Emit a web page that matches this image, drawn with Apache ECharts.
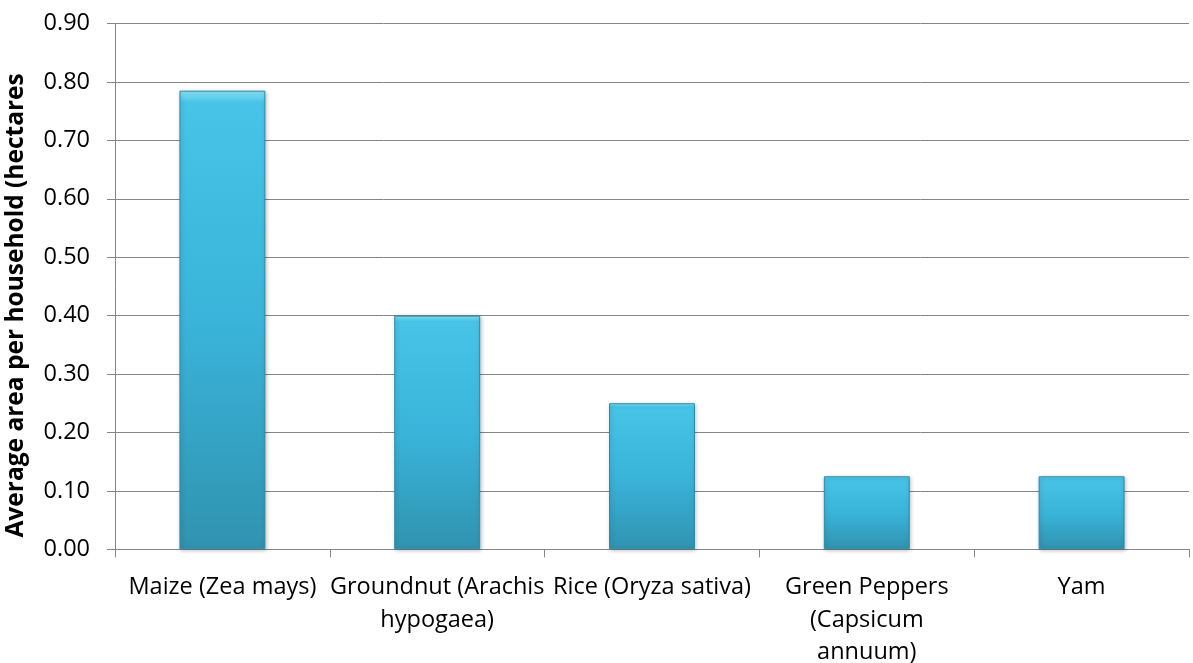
<!DOCTYPE html>
<html><head><meta charset="utf-8">
<script src="https://cdn.jsdelivr.net/npm/echarts@6/dist/echarts.min.js"></script>
<style>html,body{margin:0;padding:0;background:#fff}#c{width:1193px;height:663px}</style>
</head><body><div id="c"></div>
<script>
const categories = ["Maize (Zea mays)", "Groundnut (Arachis\nhypogaea)", "Rice (Oryza sativa)", "Green Peppers\n(Capsicum\nannuum)", "Yam"];
const values = [0.785, 0.40, 0.25, 0.125, 0.125];
const yTitle = "Average area per household (hectares";

const chart = echarts.init(document.getElementById('c'));
const font = "'Open Sans', sans-serif";
chart.setOption({
  animation: false,
  grid: { left: 115, right: 4, top: 23.5, bottom: 113.7, containLabel: false, outerBoundsMode: 'none' },
  xAxis: {
    type: 'category', data: categories, boundaryGap: true,
    axisLine: { lineStyle: { color: '#868686', width: 1 } },
    axisTick: { show: true, length: 8, alignWithLabel: false, lineStyle: { color: '#868686' } },
    axisLabel: { interval: 0, color: '#000', fontFamily: font, fontSize: 23.5, lineHeight: 32.5, margin: 22 }
  },
  yAxis: {
    type: 'value', min: 0, max: 0.9, interval: 0.1,
    name: yTitle, nameLocation: 'middle', nameGap: 86,
    nameTextStyle: { color: '#000', fontFamily: font, fontSize: 24.5, fontWeight: 'bold', padding: [0, 38, 0, 0] },
    axisLine: { show: true, lineStyle: { color: '#868686' } },
    axisTick: { show: true, length: 8, lineStyle: { color: '#868686' } },
    splitLine: { lineStyle: { color: '#868686', width: 1 } },
    axisLabel: { color: '#000', fontFamily: font, fontSize: 23.5, margin: 25, formatter: v => v.toFixed(2) }
  },
  series: [{
    type: 'bar', data: values, barWidth: '40%',
    itemStyle: {
      color: new echarts.graphic.LinearGradient(0, 0, 0, 1, [
        { offset: 0, color: '#8ae6f8' },
        { offset: 0.025, color: '#47c4e7' },
        { offset: 0.5, color: '#3ab4da' },
        { offset: 1, color: '#3093b0' }
      ]),
      borderColor: '#2c8aa5', borderWidth: 1,
      shadowColor: 'rgba(0,0,0,0.25)', shadowBlur: 4, shadowOffsetX: 1, shadowOffsetY: 1
    }
  }]
});
</script></body></html>
